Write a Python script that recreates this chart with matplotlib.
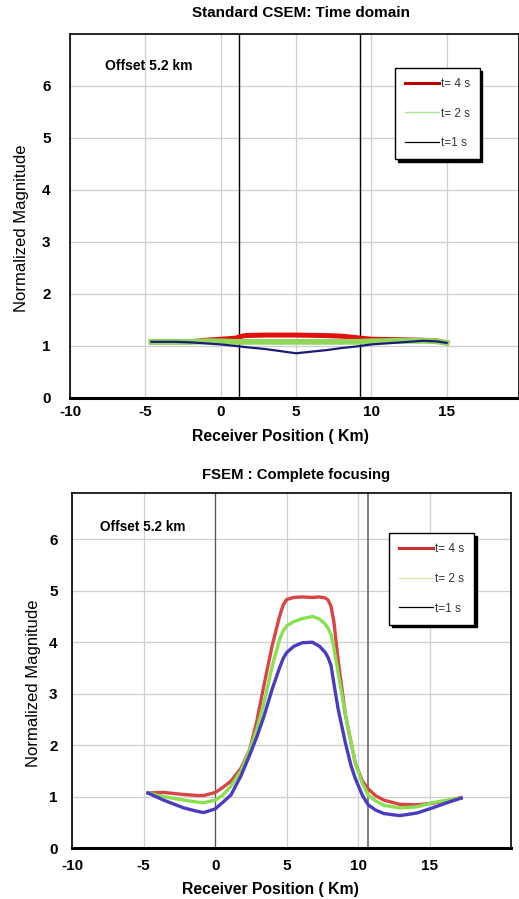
import matplotlib.pyplot as plt
from matplotlib.lines import Line2D

plt.rcParams["font.family"] = ["Liberation Sans", "DejaVu Sans"]
plt.rcParams["axes.unicode_minus"] = False

# ---- Standard CSEM (top panel) ----
csem_x = [-4.6, -3.0, -2.0, -1.0, 0.0, 1.0, 1.3, 1.6, 3.0, 5.0, 7.0, 8.0, 9.0, 10.0, 12.0, 13.4, 14.3, 15.0]
csem_t4 = [1.08, 1.08, 1.08, 1.11, 1.13, 1.15, 1.18, 1.20, 1.21, 1.21, 1.20, 1.19, 1.16, 1.13, 1.12, 1.11, 1.10, 1.06]
csem_t2 = [1.08, 1.08, 1.08, 1.09, 1.09, 1.08, 1.08, 1.08, 1.08, 1.08, 1.08, 1.08, 1.08, 1.09, 1.10, 1.10, 1.09, 1.06]
csem_t1 = [1.08, 1.08, 1.07, 1.05, 1.03, 1.00, 0.99, 0.98, 0.94, 0.86, 0.92, 0.96, 0.99, 1.03, 1.07, 1.10, 1.09, 1.06]

# ---- FSEM complete focusing (bottom panel) ----
fsem_x = [-4.7, -3.6, -2.2, -1.2, -0.8, 0.0, 0.5, 1.1, 1.8, 2.4, 2.9, 3.4, 4.0, 4.5, 4.75, 5.0, 5.5, 6.1, 6.8,
          7.3, 7.7, 7.9, 8.1, 8.3, 8.6, 9.1, 9.5, 9.8, 10.3, 10.7, 11.2, 11.8, 12.9, 14.1, 15.2, 16.2, 17.2]
fsem_t4 = [1.07, 1.08, 1.04, 1.02, 1.02, 1.08, 1.17, 1.30, 1.55, 1.90, 2.45, 3.15, 3.95, 4.50, 4.72, 4.83, 4.87, 4.88, 4.87,
           4.88, 4.86, 4.82, 4.70, 4.40, 3.65, 2.60, 2.05, 1.65, 1.30, 1.15, 1.02, 0.93, 0.85, 0.84, 0.87, 0.92, 0.98]
fsem_t2 = [1.07, 1.00, 0.93, 0.89, 0.88, 0.93, 1.02, 1.20, 1.50, 1.90, 2.30, 2.80, 3.55, 4.05, 4.22, 4.32, 4.40, 4.46, 4.50,
           4.45, 4.35, 4.27, 4.15, 3.90, 3.40, 2.60, 2.05, 1.65, 1.25, 1.03, 0.92, 0.83, 0.78, 0.80, 0.88, 0.93, 0.97]
fsem_t1 = [1.07, 0.93, 0.78, 0.71, 0.69, 0.76, 0.88, 1.03, 1.40, 1.80, 2.15, 2.55, 3.10, 3.50, 3.68, 3.80, 3.92, 3.99, 4.00,
           3.92, 3.80, 3.70, 3.55, 3.20, 2.70, 2.05, 1.60, 1.35, 1.02, 0.84, 0.74, 0.67, 0.63, 0.68, 0.78, 0.88, 0.97]

x_ticks = [-10, -5, 0, 5, 10, 15]
y_ticks = [0, 1, 2, 3, 4, 5, 6]
legend_labels = ["t= 4 s", "t= 2 s", "t=1 s"]


def style_axes(ax, xmax, ymax, ytick_pad, xtick_pad):
    ax.set_xlim(-10, xmax)
    ax.set_ylim(0, ymax)
    ax.set_xticks(x_ticks)
    ax.set_yticks(y_ticks)
    ax.tick_params(length=0, labelsize=11)
    ax.tick_params(axis="y", pad=ytick_pad)
    ax.tick_params(axis="x", pad=xtick_pad)
    for lab in ax.get_xticklabels() + ax.get_yticklabels():
        lab.set_fontweight("bold")
    ax.grid(True, color="#cfcfcf", lw=0.9)
    ax.set_axisbelow(True)
    for side in ["left", "top", "right"]:
        ax.spines[side].set_linewidth(1.2)
        ax.spines[side].set_color("black")
    ax.spines["bottom"].set_linewidth(2.2)


def add_legend(ax, colors, widths, anchor):
    handles = [Line2D([], [], color=c, lw=w) for c, w in zip(colors, widths)]
    leg = ax.legend(handles, legend_labels, loc="upper left", bbox_to_anchor=anchor,
                    fontsize=8.5, handlelength=2.9, handletextpad=0.1, labelspacing=1.5,
                    borderpad=0.85, fancybox=False, framealpha=1, edgecolor="black",
                    shadow={"color": "black", "alpha": 1}, borderaxespad=0)
    leg.get_frame().set_linewidth(1.0)
    for t in leg.get_texts():
        t.set_color("#333333")


fig = plt.figure(figsize=(5.19, 8.99), dpi=100)

# top panel
ax1 = fig.add_axes([0.135, 0.5573, 0.865, 0.4049])
style_axes(ax1, 19.8, 7.0, 14, 5)
ax1.axvline(1.2, color="black", lw=1.0)
ax1.axvline(9.25, color="black", lw=1.0)
ax1.plot(csem_x, csem_t4, color="#e01010", lw=3.6)
ax1.plot(csem_x, csem_t2, color="#8fd65a", lw=4.2)
ax1.plot(csem_x, csem_t1, color="#1c1c78", lw=1.6)
ax1.set_title("Standard CSEM: Time domain", fontsize=11, fontweight="bold", pad=12, x=0.515)
ax1.set_xlabel("Receiver Position ( Km)", fontsize=11.3, fontweight="bold")
ax1.xaxis.set_label_coords(0.468, -0.085)
ax1.set_ylabel("Normalized Magnitude", fontsize=12)
ax1.yaxis.set_label_coords(-0.092, 0.467)
ax1.text(0.078, 0.912, "Offset 5.2 km", transform=ax1.transAxes, fontsize=10,
         fontweight="bold", va="center", ha="left")
add_legend(ax1, ["#c00000", "#a8e890", "black"], [2.2, 1.0, 0.9], (0.724, 0.907))

# bottom panel
ax2 = fig.add_axes([0.139, 0.0567, 0.846, 0.3949])
style_axes(ax2, 20.7, 6.9, 10.5, 8)
ax2.axvline(0, color="#555555", lw=0.9)
ax2.axvline(10.7, color="#666666", lw=1.2)
ax2.plot(fsem_x, fsem_t4, color="#d94444", lw=2.4)
ax2.plot(fsem_x, fsem_t2, color="#88e050", lw=2.4)
ax2.plot(fsem_x, fsem_t1, color="#4a3cc0", lw=2.4)
ax2.set_title("FSEM : Complete focusing", fontsize=10.7, fontweight="bold", pad=10, x=0.51)
ax2.set_xlabel("Receiver Position ( Km)", fontsize=11.3, fontweight="bold")
ax2.xaxis.set_label_coords(0.451, -0.096)
ax2.set_ylabel("Normalized Magnitude", fontsize=12)
ax2.yaxis.set_label_coords(-0.072, 0.465)
ax2.text(0.064, 0.904, "Offset 5.2 km", transform=ax2.transAxes, fontsize=9.8,
         fontweight="bold", va="center", ha="left")
add_legend(ax2, ["#c83030", "#e0e8b0", "black"], [2.2, 1.0, 0.9], (0.722, 0.887))

fig.savefig("out.png", dpi=100)
